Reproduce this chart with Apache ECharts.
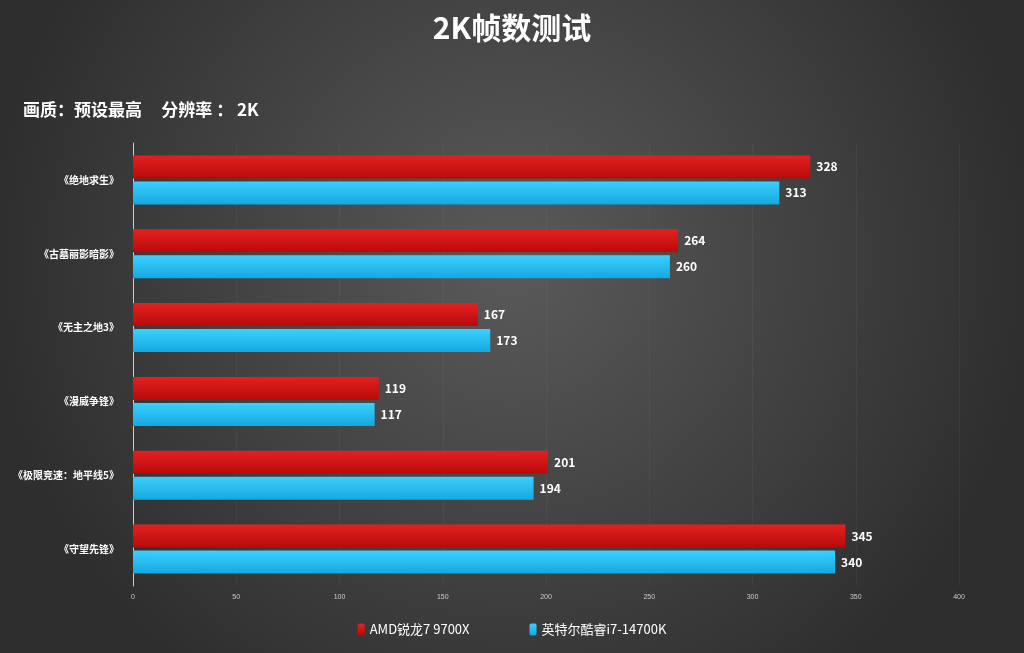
<!DOCTYPE html><html><head><meta charset="utf-8"><script src="https://cdn.jsdelivr.net/npm/echarts@6/dist/echarts.min.js"></script>
<style>html,body{margin:0;height:100%;}#c{width:1024px;height:653px;}</style></head><body><div id="c"></div><script>
const categories=['《绝地求生》','《古墓丽影暗影》','《无主之地3》','《漫威争锋》','《极限竞速：地平线5》','《守望先锋》'];
const amd=[328,264,167,119,201,345];
const intel=[313,260,173,117,194,340];
const seriesNames=['AMD锐龙7 9700X','英特尔酷睿i7-14700K'];
const chart=echarts.init(document.getElementById('c'));
const font='"Noto Sans CJK SC","Noto Sans",sans-serif';
const lbl={show:true,position:'right',color:'#fff',fontSize:12,fontWeight:'bold',distance:6,fontFamily:font};
chart.setOption({
backgroundColor:{type:'radial',x:0.5,y:0.4,r:0.8,colorStops:[{offset:0,color:'#5a5a5a'},{offset:1,color:'#2e2e2e'}]},
title:[{text:'2K帧数测试',left:'center',top:8,textStyle:{color:'#fff',fontSize:30,fontWeight:'bold',fontFamily:font}},
{text:'画质：预设最高     分辨率 ： 2K',left:18,top:96,textStyle:{color:'#fff',fontSize:17,fontWeight:'bold',fontFamily:font}}],
legend:{bottom:12,left:'center',itemWidth:7,itemHeight:12,itemGap:60,textStyle:{color:'#fff',fontSize:13,fontFamily:font},data:seriesNames},
grid:{left:133,right:65,top:143,bottom:67},
xAxis:{type:'value',min:0,max:400,interval:50,axisLabel:{color:'#ccc',fontSize:7},splitLine:{lineStyle:{color:'rgba(255,255,255,0.04)'}},axisLine:{show:false}},
yAxis:{type:'category',inverse:true,data:categories,axisTick:{show:false},axisLine:{lineStyle:{color:'#ccc'}},axisLabel:{color:'#fff',fontSize:10,fontWeight:'bold',margin:14,fontFamily:font}},
series:[
{name:seriesNames[0],type:'bar',data:amd,barWidth:23,barGap:'13%',label:lbl,itemStyle:{color:{type:'linear',x:0,y:0,x2:0,y2:1,colorStops:[{offset:0,color:'#e52020'},{offset:1,color:'#b80a0a'}]}}},
{name:seriesNames[1],type:'bar',data:intel,barWidth:23,label:lbl,itemStyle:{color:{type:'linear',x:0,y:0,x2:0,y2:1,colorStops:[{offset:0,color:'#3cd0ff'},{offset:1,color:'#14a8e0'}]}}}
]});
</script></body></html>
